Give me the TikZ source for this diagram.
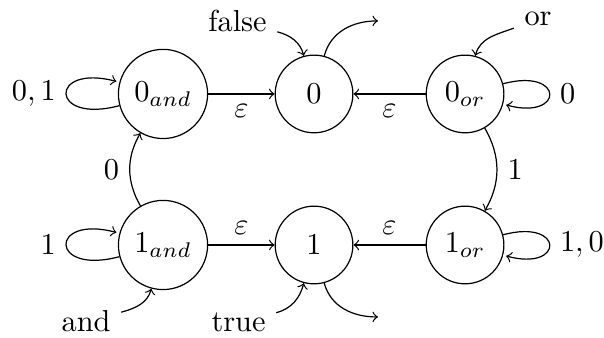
\documentclass[tikz,border=0pt]{standalone}
\usetikzlibrary{positioning}

\begin{document}
\begin{tikzpicture}[
    state/.style={circle, draw, minimum size=0.9cm},
    word/.style={anchor=base},
    arr/.style={->}
  ]
    \useasboundingbox (-1.889,-2.827) rectangle (5.11,1.089);

    % states
    \node[state] (zand) at (0,0) {$0_{and}$};
    \node[state] (zero) at (1.75,0) {$0$};
    \node[state] (zor) at (3.5,0) {$0_{or}$};
    \node[state] (oand) at (0,-1.75) {$1_{and}$};
    \node[state] (one) at (1.75,-1.75) {$1$};
    \node[state] (oor) at (3.5,-1.75) {$1_{or}$};

    % inputs and outputs
    \node[word] (lfalse) at (0.863,0.722) {false};
    \node[word] (lor) at (4.346,0.788) {or};
    \node[word] (land) at (-0.892,-2.758) {and};
    \node[word] (ltrue) at (0.875,-2.758) {true};
    \coordinate (outF) at (2.491,0.846);
    \coordinate (outT) at (2.491,-2.584);

    \draw[arr] (zand) -- node[below] {$\varepsilon$} (zero);
    \draw[arr] (zor) -- node[below] {$\varepsilon$} (zero);
    \draw[arr] (oand) -- node[above] {$\varepsilon$} (one);
    \draw[arr] (oor) -- node[above] {$\varepsilon$} (one);
    \draw[arr] (oand) to[bend left] node[left] {$0$} (zand);
    \draw[arr] (zor) to[bend left] node[right] {$1$} (oor);

    \path (zand) edge[arr, loop left] node[left] {$0,1$} ();
    \path (zor) edge[arr, loop right] node[right] {$0$} ();
    \path (oand) edge[arr, loop left] node[left] {$1$} ();
    \path (oor) edge[arr, loop right] node[right] {$1,0$} ();

    \draw[arr] (lfalse) to[out=-15, in=105] (zero);
    \draw[arr] (zero) to[out=75, in=180] (outF);
    \draw[arr] (lor) to[out=200, in=75] (zor);
    \draw[arr] (land) to[out=15, in=255] (oand);
    \draw[arr] (ltrue) to[out=15, in=255] (one);
    \draw[arr] (one) to[out=-75, in=180] (outT);
  \end{tikzpicture}
\end{document}
